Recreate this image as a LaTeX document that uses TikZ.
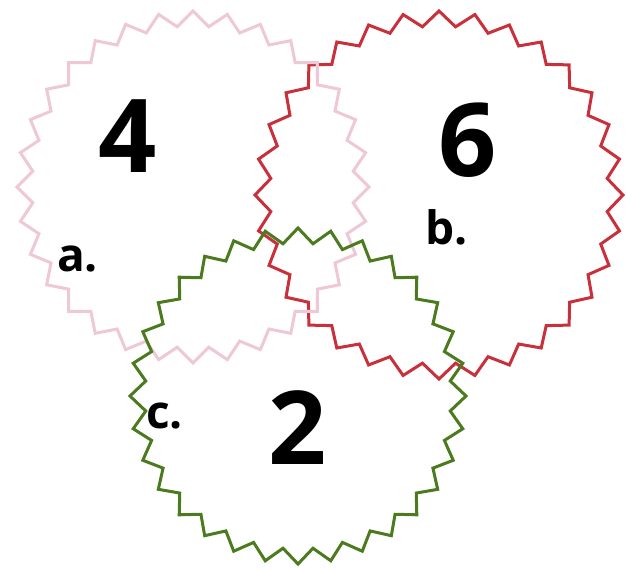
\documentclass[tikz,border=0pt]{standalone}
\usepackage{fontspec}
\setmainfont{Open Sans}
\definecolor{pinkline}{HTML}{EFC8D8}
\definecolor{redline}{HTML}{C8303C}
\definecolor{greenline}{HTML}{4B7A1F}
\tikzset{
  zig/.style={line width=3pt, line join=miter},
  bignum/.style={font=\fontsize{102}{102}\selectfont\bfseries, inner sep=0pt, anchor=base},
  lbl/.style={font=\fontsize{46}{46}\selectfont\bfseries, inner sep=0pt, anchor=base west}
}
\newcommand\zigstar[5]{%
  \begin{scope}[shift={(#1,#2)}]
    \draw[zig,#5] (90:#3) \foreach \i in {1,...,63} { -- ({90+\i*5.625}:{#3-#4*mod(\i,2)}) } -- cycle;
  \end{scope}}
\begin{document}
\begin{tikzpicture}[x=1pt,y=-1pt]
  \useasboundingbox (0,0) rectangle (626,569);
  \fill[white] (0,0) rectangle (626,569);
  \coordinate (cb) at (439,195);
  \coordinate (ca) at (193,187);
  \coordinate (cc) at (298,396);
  \zigstar{439}{195}{184}{15}{redline}
  \zigstar{193}{187}{176}{15}{pinkline}
  \zigstar{298}{396}{168}{15}{greenline}
  \node[bignum] (n4) at (128,173) {4};
  \node[bignum] (n6) at (468,177) {6};
  \node[bignum] (n2) at (298,464) {2};
  \node[lbl] (la) at (57,272) {a.};
  \node[lbl] (lb) at (425,244) {b.};
  \node[lbl] (lc) at (146,428) {c.};
\end{tikzpicture}
\end{document}
